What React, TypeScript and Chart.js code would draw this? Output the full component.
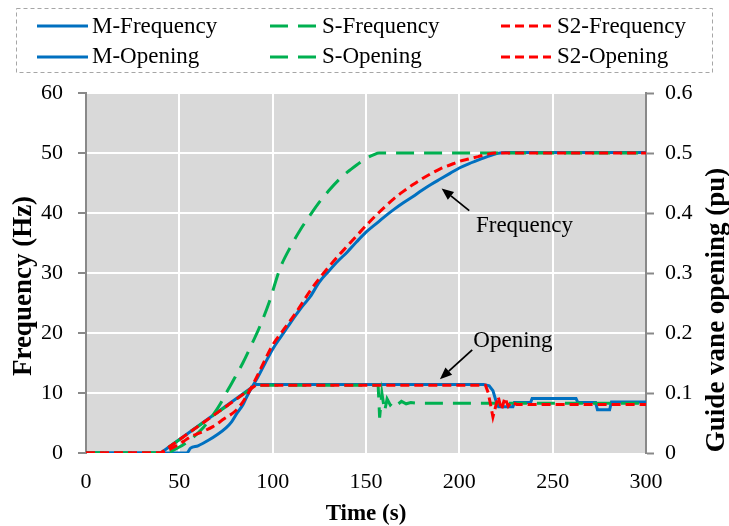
import React, { useEffect, useRef } from 'react';
import { Chart, registerables } from 'chart.js';

Chart.register(...registerables);

// ---------- data ----------
const mFreqT = [0, 54, 56, 60, 66, 70, 75, 78, 81, 84, 86, 89, 92, 96, 100, 104, 108, 112, 116, 120, 125, 130, 135, 140, 145, 150, 155, 160, 165, 170, 175, 180, 185, 190, 195, 200, 205, 210, 215, 220, 225, 300];
const mFreqV = [0, 0, 0.8, 1.2, 2.2, 3.0, 4.2, 5.2, 6.7, 8.0, 9.3, 11.0, 12.6, 15.0, 17.3, 19.2, 21.0, 22.8, 24.5, 26.0, 28.5, 30.3, 32.0, 33.5, 35.2, 36.8, 38.1, 39.4, 40.6, 41.7, 42.7, 43.8, 44.8, 45.7, 46.6, 47.5, 48.2, 48.8, 49.4, 49.9, 50.1, 50.1];

const sFreqT = [0, 42, 50, 57, 63, 68, 72, 76, 80, 84, 88, 93, 98, 104, 110, 115, 120, 125, 130, 135, 140, 145, 150, 154, 157, 300];
const sFreqV = [0, 0, 1.0, 2.5, 4.3, 6.3, 8.2, 10.5, 12.7, 15.0, 17.6, 21.0, 25.0, 30.8, 34.6, 37.3, 39.6, 41.8, 43.7, 45.4, 46.8, 48.0, 49.1, 49.7, 50.0, 50.0];

const s2FreqT = [0, 40, 46, 52, 56, 62, 68, 74, 80, 84, 88, 92, 96, 100, 105, 110, 114, 120, 125, 130, 135, 140, 145, 150, 155, 160, 165, 170, 175, 180, 185, 190, 195, 200, 205, 210, 215, 219, 300];
const s2FreqV = [0, 0, 0.8, 1.9, 2.7, 3.5, 4.4, 5.7, 7.0, 8.5, 10.6, 13.0, 15.6, 18.0, 20.2, 22.3, 24.1, 27.0, 29.1, 31.0, 32.8, 34.5, 36.2, 37.9, 39.5, 41.0, 42.4, 43.6, 44.7, 45.7, 46.6, 47.4, 48.0, 48.6, 49.0, 49.4, 49.8, 50.0, 50.0];

const mOpenT = [0, 40, 91, 213, 216, 218, 220, 221, 228.7, 229.5, 238.2, 239, 262.5, 263.5, 273, 274, 280.5, 281.5, 300];
const mOpenV = [0, 0, 0.114, 0.114, 0.112, 0.104, 0.083, 0.077, 0.077, 0.084, 0.084, 0.091, 0.091, 0.084, 0.084, 0.072, 0.072, 0.085, 0.085];

const sOpenT = [0, 40, 91, 156.5, 157.3, 158.5, 160, 161.3, 163, 165, 167, 169, 171.5, 174, 177, 300];
const sOpenV = [0, 0, 0.113, 0.113, 0.059, 0.1, 0.07, 0.09, 0.08, 0.087, 0.081, 0.086, 0.082, 0.084, 0.083, 0.083];

const s2OpenT = [0, 40, 91, 214, 215.5, 218, 220.8, 222.6, 224.4, 226.2, 228, 230.7, 300];
const s2OpenV = [0, 0, 0.113, 0.113, 0.1, 0.06, 0.094, 0.072, 0.092, 0.078, 0.085, 0.081, 0.081];

const seriesLabels = ['M-Frequency', 'S-Frequency', 'S2-Frequency', 'M-Opening', 'S-Opening', 'S2-Opening'];

// annotations in data units (time s, frequency Hz)
const annotations = [
  { text: 'Frequency', textT: 208.9, textF: 36.9, tailT: 205.3, tailF: 40.4, headT: 190.5, headF: 44.1 },
  { text: 'Opening', textT: 207.5, textF: 17.7, tailT: 206.9, tailF: 17.2, headT: 189.6, headF: 12.3 },
];

const FONT = "'Liberation Serif', 'Times New Roman', serif";
const BLUE = '#0070C0';
const GREEN = '#00B050';
const RED = '#FF0000';

const toXY = (t: number[], v: number[]) => t.map((x, i) => ({ x, y: v[i] }));

const decorPlugin = {
  id: 'decor',
  beforeDraw(chart: any) {
    const { ctx, chartArea: a } = chart;
    ctx.save();
    ctx.fillStyle = '#d9d9d9';
    ctx.fillRect(a.left, a.top, a.right - a.left, a.bottom - a.top);
    ctx.restore();
  },
  afterDatasetsDraw(chart: any) {
    const { ctx } = chart;
    const xs = chart.scales.x;
    const ys = chart.scales.y;
    ctx.save();
    ctx.fillStyle = '#000';
    ctx.strokeStyle = '#000';
    ctx.font = `23px ${FONT}`;
    ctx.textAlign = 'left';
    ctx.textBaseline = 'alphabetic';
    for (const an of annotations) {
      ctx.fillText(an.text, xs.getPixelForValue(an.textT), ys.getPixelForValue(an.textF));
      const x0 = xs.getPixelForValue(an.tailT);
      const y0 = ys.getPixelForValue(an.tailF);
      const x1 = xs.getPixelForValue(an.headT);
      const y1 = ys.getPixelForValue(an.headF);
      const ang = Math.atan2(y1 - y0, x1 - x0);
      const hl = 12;
      const hw = 5;
      const bx = x1 - hl * Math.cos(ang);
      const by = y1 - hl * Math.sin(ang);
      ctx.lineWidth = 1.8;
      ctx.beginPath();
      ctx.moveTo(x0, y0);
      ctx.lineTo(bx, by);
      ctx.stroke();
      ctx.beginPath();
      ctx.moveTo(x1, y1);
      ctx.lineTo(bx + hw * Math.sin(ang), by - hw * Math.cos(ang));
      ctx.lineTo(bx - hw * Math.sin(ang), by + hw * Math.cos(ang));
      ctx.closePath();
      ctx.fill();
    }
    ctx.restore();
  },
  afterDraw(chart: any) {
    const { ctx } = chart;
    ctx.save();
    // legend box
    ctx.strokeStyle = '#a6a6a6';
    ctx.lineWidth = 1;
    ctx.setLineDash([4, 3]);
    ctx.strokeRect(16.5, 8.5, 696, 64);
    // legend items
    const cols = [
      { l0: 37, l1: 88, tx: 92 },
      { l0: 270, l1: 316, tx: 322 },
      { l0: 501, l1: 551, tx: 557 },
    ];
    const rows = [{ ly: 26, ty: 27 }, { ly: 57, ty: 57 }];
    ctx.font = `23px ${FONT}`;
    ctx.textAlign = 'left';
    ctx.textBaseline = 'middle';
    chart.data.datasets.forEach((ds: any, i: number) => {
      const c = cols[i % 3];
      const r = rows[Math.floor(i / 3)];
      ctx.strokeStyle = ds.borderColor;
      ctx.lineWidth = ds.borderWidth;
      ctx.setLineDash(ds.borderDash || []);
      ctx.beginPath();
      ctx.moveTo(c.l0, r.ly);
      ctx.lineTo(c.l1, r.ly);
      ctx.stroke();
      ctx.fillStyle = '#000';
      ctx.fillText(ds.label, c.tx, r.ty);
    });
    ctx.setLineDash([]);
    // vertical axis titles
    ctx.font = `bold 27px ${FONT}`;
    ctx.textAlign = 'center';
    ctx.textBaseline = 'middle';
    ctx.fillStyle = '#000';
    ctx.save();
    ctx.translate(24, 286);
    ctx.rotate(-Math.PI / 2);
    ctx.fillText('Frequency (Hz)', 0, 0);
    ctx.restore();
    ctx.save();
    ctx.translate(717, 310);
    ctx.rotate(-Math.PI / 2);
    ctx.fillText('Guide vane opening (pu)', 0, 0);
    ctx.restore();
    ctx.restore();
  },
};

export default function App() {
  const ref = useRef<HTMLCanvasElement | null>(null);

  useEffect(() => {
    document.body.style.margin = '0';
    if (!ref.current) return;
    Chart.defaults.font.family = FONT;
    const axisGray = '#898989';
    const chart = new Chart(ref.current, {
      type: 'line',
      data: {
        datasets: [
          { label: seriesLabels[0], data: toXY(mFreqT, mFreqV), borderColor: BLUE, borderWidth: 3, yAxisID: 'y', order: 3, cubicInterpolationMode: 'monotone' },
          { label: seriesLabels[1], data: toXY(sFreqT, sFreqV), borderColor: GREEN, borderWidth: 3, borderDash: [18, 10], yAxisID: 'y', order: 2, cubicInterpolationMode: 'monotone' },
          { label: seriesLabels[2], data: toXY(s2FreqT, s2FreqV), borderColor: RED, borderWidth: 3, borderDash: [9, 5], yAxisID: 'y', order: 1, cubicInterpolationMode: 'monotone' },
          { label: seriesLabels[3], data: toXY(mOpenT, mOpenV), borderColor: BLUE, borderWidth: 3, yAxisID: 'y1', order: 3 },
          { label: seriesLabels[4], data: toXY(sOpenT, sOpenV), borderColor: GREEN, borderWidth: 3, borderDash: [18, 10], yAxisID: 'y1', order: 2 },
          { label: seriesLabels[5], data: toXY(s2OpenT, s2OpenV), borderColor: RED, borderWidth: 3, borderDash: [9, 5], yAxisID: 'y1', order: 1 },
        ] as any,
      },
      options: {
        animation: false,
        responsive: true,
        maintainAspectRatio: false,
        elements: { point: { radius: 0 }, line: { fill: false } },
        layout: { padding: { top: 93, left: 0, right: 0, bottom: 0 } },
        plugins: { legend: { display: false }, tooltip: { enabled: false } },
        scales: {
          x: {
            type: 'linear',
            min: 0,
            max: 300,
            ticks: { stepSize: 50, font: { size: 22 }, color: '#000', padding: 16, maxRotation: 0 },
            grid: {
              color: (c: any) => (c.tick && (c.tick.value === 0 || c.tick.value === 300) ? 'rgba(0,0,0,0)' : '#ffffff'),
              lineWidth: 2,
              drawTicks: false,
            },
            border: { display: false },
            title: { display: true, text: 'Time (s)', color: '#000', font: { size: 23, weight: 'bold' }, padding: { top: 0, bottom: -2 } },
            afterFit: (s: any) => { s.height = 73; },
          },
          y: {
            type: 'linear',
            position: 'left',
            min: 0,
            max: 60,
            ticks: { stepSize: 10, font: { size: 22 }, color: '#000', padding: 15 },
            grid: {
              color: (c: any) => (c.tick && c.tick.value === 0 ? 'rgba(0,0,0,0)' : '#ffffff'),
              lineWidth: 2,
              tickColor: axisGray,
              tickWidth: 2,
              tickLength: 8,
            },
            border: { color: axisGray, width: 2 },
            afterFit: (s: any) => { s.width = 86; },
          },
          y1: {
            type: 'linear',
            position: 'right',
            min: 0,
            max: 0.6,
            ticks: {
              stepSize: 0.1,
              font: { size: 22 },
              color: '#000',
              padding: 11,
              callback: (v: any) => (Number(v) === 0 ? '0' : Number(v).toFixed(1)),
            },
            grid: { drawOnChartArea: false, tickColor: axisGray, tickWidth: 2, tickLength: 8 },
            border: { color: axisGray, width: 2 },
            afterFit: (s: any) => { s.width = 83; },
          },
        },
      } as any,
      plugins: [decorPlugin as any],
    });
    return () => chart.destroy();
  }, []);

  return (
    <div style={{ width: 729, height: 526, position: 'relative' }}>
      <canvas ref={ref} />
    </div>
  );
}
